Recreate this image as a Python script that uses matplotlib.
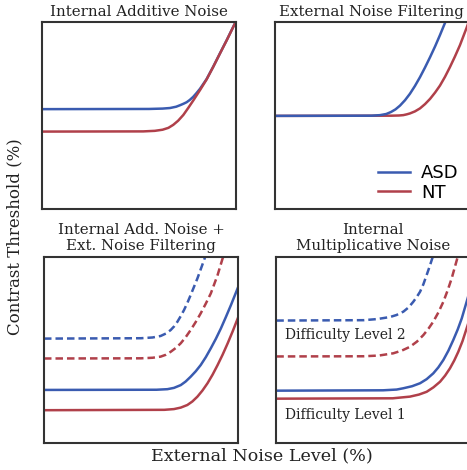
import matplotlib
matplotlib.use('Agg')
import matplotlib.pyplot as plt

BLUE = '#3a5bb0'
RED = '#b0404a'

# curve points, in axes fraction (noise level, threshold)
# panel 1: internal additive noise
p1_asd_x = [0.0, 0.55, 0.62, 0.658, 0.69, 0.71, 0.728, 0.744, 0.76, 0.778, 0.795,
            0.813, 0.847, 0.881, 0.916, 0.951, 0.993, 1.0]
p1_asd_y = [0.534, 0.535, 0.537, 0.540, 0.547, 0.555, 0.563, 0.571, 0.583, 0.600, 0.620,
            0.643, 0.695, 0.761, 0.833, 0.904, 0.993, 1.007]
p1_nt_x = [0.0, 0.52, 0.58, 0.62, 0.65, 0.675, 0.70, 0.727, 0.752, 0.778, 0.813,
           0.847, 0.881, 0.916, 0.951, 0.993, 1.0]
p1_nt_y = [0.414, 0.415, 0.418, 0.424, 0.434, 0.450, 0.472, 0.503, 0.540, 0.580, 0.636,
           0.693, 0.760, 0.832, 0.903, 0.992, 1.006]

# panel 2: external noise filtering
p2_asd_x = [0.0, 0.50, 0.543, 0.575, 0.60, 0.623, 0.646, 0.672, 0.697, 0.723, 0.749,
            0.775, 0.801, 0.827, 0.852, 0.873, 0.88]
p2_asd_y = [0.498, 0.499, 0.502, 0.508, 0.519, 0.533, 0.553, 0.582, 0.616, 0.658, 0.705,
            0.757, 0.812, 0.870, 0.930, 0.983, 1.0]
p2_nt_x = [0.0, 0.60, 0.64, 0.663, 0.68, 0.697, 0.723, 0.749, 0.775, 0.801, 0.827,
           0.852, 0.878, 0.903, 0.929, 0.955, 0.99, 1.0]
p2_nt_y = [0.498, 0.499, 0.500, 0.502, 0.506, 0.511, 0.522, 0.538, 0.561, 0.589, 0.623,
           0.660, 0.707, 0.758, 0.815, 0.876, 0.971, 1.0]

# panel 3: internal additive noise + external noise filtering (two difficulty levels)
p3_asd2_x = [0.0, 0.50, 0.56, 0.601, 0.628, 0.653, 0.671, 0.688, 0.705, 0.722, 0.739,
             0.756, 0.791, 0.825, 0.83]
p3_asd2_y = [0.563, 0.565, 0.569, 0.577, 0.590, 0.609, 0.629, 0.654, 0.684, 0.717, 0.755,
             0.797, 0.887, 0.985, 1.0]
p3_nt2_x = [0.0, 0.50, 0.56, 0.601, 0.628, 0.653, 0.68, 0.705, 0.73, 0.756, 0.782,
            0.808, 0.834, 0.86, 0.895, 0.921, 0.923]
p3_nt2_y = [0.456, 0.457, 0.460, 0.466, 0.476, 0.492, 0.513, 0.538, 0.570, 0.609, 0.652,
            0.699, 0.751, 0.806, 0.905, 0.995, 1.0]
p3_asd1_x = [0.0, 0.58, 0.636, 0.67, 0.705, 0.73, 0.756, 0.782, 0.808, 0.834, 0.86,
             0.886, 0.912, 0.938, 0.964, 1.0]
p3_asd1_y = [0.287, 0.288, 0.291, 0.298, 0.313, 0.332, 0.358, 0.387, 0.421, 0.463, 0.511,
             0.562, 0.618, 0.680, 0.744, 0.838]
p3_nt1_x = [0.0, 0.62, 0.67, 0.705, 0.739, 0.765, 0.791, 0.817, 0.843, 0.869, 0.895,
            0.921, 0.947, 0.973, 1.0]
p3_nt1_y = [0.178, 0.180, 0.184, 0.192, 0.206, 0.225, 0.251, 0.284, 0.323, 0.369, 0.421,
            0.477, 0.538, 0.603, 0.675]

# panel 4: internal multiplicative noise
p4_asd2_x = [0.0, 0.45, 0.52, 0.586, 0.62, 0.655, 0.682, 0.706, 0.724, 0.741, 0.758,
             0.775, 0.79, 0.804, 0.806]
p4_asd2_y = [0.660, 0.662, 0.668, 0.679, 0.690, 0.708, 0.731, 0.761, 0.787, 0.815, 0.855,
             0.905, 0.950, 0.995, 1.0]
p4_nt2_x = [0.0, 0.45, 0.53, 0.603, 0.648, 0.689, 0.725, 0.758, 0.784, 0.809, 0.835,
            0.861, 0.883, 0.904, 0.933, 0.935]
p4_nt2_y = [0.467, 0.468, 0.472, 0.484, 0.499, 0.519, 0.547, 0.582, 0.616, 0.654, 0.703,
            0.761, 0.822, 0.887, 0.995, 1.0]
p4_asd1_x = [0.0, 0.55, 0.62, 0.655, 0.70, 0.741, 0.775, 0.809, 0.835, 0.861, 0.887,
             0.912, 0.935, 0.956, 0.981, 1.0]
p4_asd1_y = [0.283, 0.285, 0.289, 0.296, 0.307, 0.323, 0.345, 0.376, 0.408, 0.448, 0.498,
             0.555, 0.612, 0.672, 0.761, 0.83]
p4_nt1_x = [0.0, 0.60, 0.689, 0.735, 0.775, 0.81, 0.844, 0.87, 0.895, 0.917, 0.938,
            0.96, 0.981, 1.0]
p4_nt1_y = [0.240, 0.242, 0.251, 0.262, 0.277, 0.301, 0.331, 0.364, 0.403, 0.445, 0.492,
            0.550, 0.618, 0.68]

titles = ['Internal Additive Noise', 'External Noise Filtering',
          'Internal Add. Noise +\nExt. Noise Filtering', 'Internal\nMultiplicative Noise']

plt.rcParams['font.family'] = 'DejaVu Serif'
plt.rcParams['lines.solid_joinstyle'] = 'round'
plt.rcParams['lines.dash_joinstyle'] = 'round'

fig = plt.figure(figsize=(4.67, 4.70), dpi=100)
w = 0.4154
ax1 = fig.add_axes([0.0906, 0.5553, w, 0.3979])
ax2 = fig.add_axes([0.5882, 0.5553, w, 0.3979])
ax3 = fig.add_axes([0.0942, 0.0568, w, 0.3957])
ax4 = fig.add_axes([0.5917, 0.0568, w, 0.3957])
axes = [ax1, ax2, ax3, ax4]

lw = 1.8
dash = (0, (3, 1.6))
ax1.plot(p1_asd_x, p1_asd_y, color=BLUE, lw=lw)
ax1.plot(p1_nt_x, p1_nt_y, color=RED, lw=lw)

ax2.plot(p2_nt_x, p2_nt_y, color=RED, lw=lw, label='NT')
ax2.plot(p2_asd_x, p2_asd_y, color=BLUE, lw=lw, label='ASD')

ax3.plot(p3_asd2_x, p3_asd2_y, color=BLUE, lw=lw, ls=dash)
ax3.plot(p3_nt2_x, p3_nt2_y, color=RED, lw=lw, ls=dash)
ax3.plot(p3_asd1_x, p3_asd1_y, color=BLUE, lw=lw)
ax3.plot(p3_nt1_x, p3_nt1_y, color=RED, lw=lw)

ax4.plot(p4_asd2_x, p4_asd2_y, color=BLUE, lw=lw, ls=dash)
ax4.plot(p4_nt2_x, p4_nt2_y, color=RED, lw=lw, ls=dash)
ax4.plot(p4_asd1_x, p4_asd1_y, color=BLUE, lw=lw)
ax4.plot(p4_nt1_x, p4_nt1_y, color=RED, lw=lw)
ax4.text(0.043, 0.582, 'Difficulty Level 2', transform=ax4.transAxes,
         fontsize=10, va='center', ha='left', color='#222222')
ax4.text(0.043, 0.152, 'Difficulty Level 1', transform=ax4.transAxes,
         fontsize=10, va='center', ha='left', color='#222222')

for i, (ax, t) in enumerate(zip(axes, titles)):
    ax.set_xlim(0, 1)
    ax.set_ylim(0, 1)
    ax.set_xticks([])
    ax.set_yticks([])
    for s in ax.spines.values():
        s.set_linewidth(1.5)
        s.set_color('#333333')
    ax.set_title(t, fontsize=10.8, pad=4 if i < 2 else 5.5, linespacing=1.15,
                 color='#222222')

handles, labels = ax2.get_legend_handles_labels()
ax2.legend(handles[::-1], labels[::-1], loc='lower right', frameon=False,
           prop={'family': 'DejaVu Sans', 'size': 13}, handlelength=1.8,
           handletextpad=0.6, labelspacing=0.1, borderaxespad=0.0,
           bbox_to_anchor=(0.985, 0.0))

fig.text(0.032, 0.497, 'Contrast Threshold (%)', rotation=90, fontsize=12,
         ha='center', va='center', color='#222222')
fig.text(0.561, 0.031, 'External Noise Level (%)', fontsize=12.6,
         ha='center', va='center', color='#222222')

fig.savefig('out.png', dpi=100)
